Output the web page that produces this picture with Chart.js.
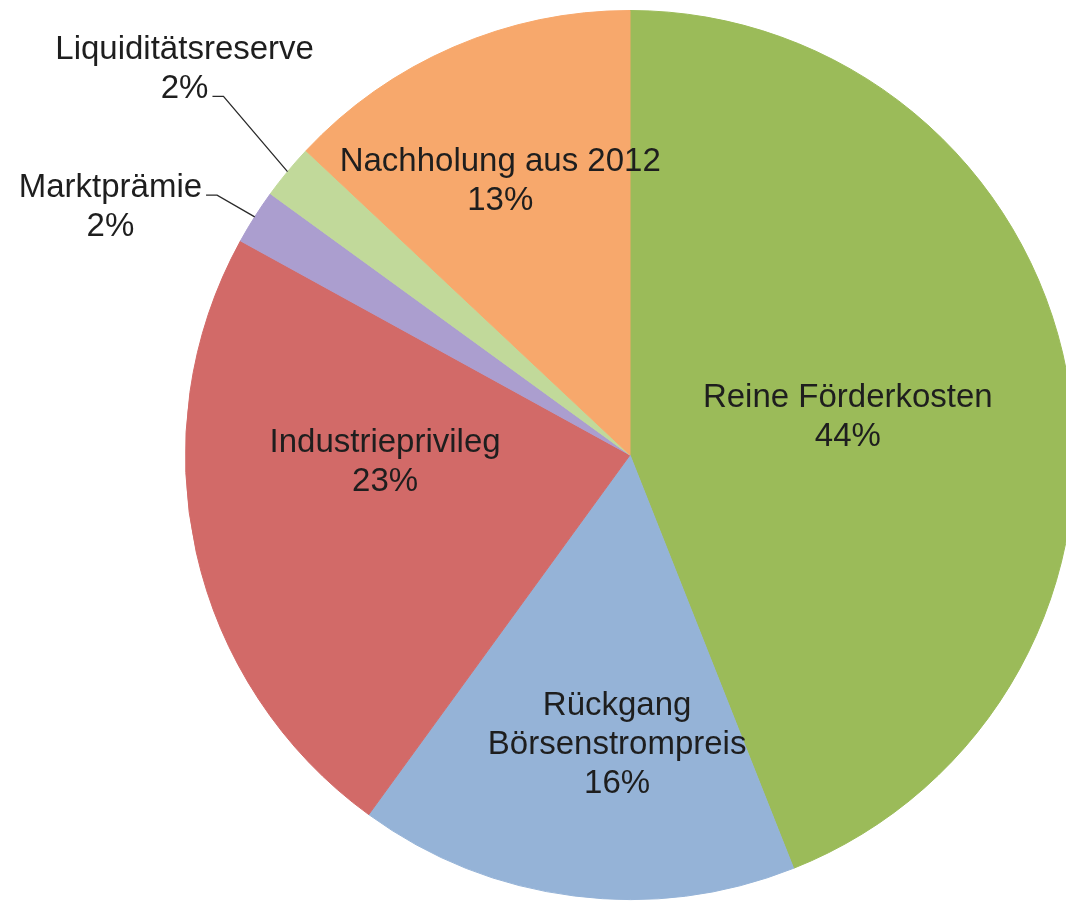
<!DOCTYPE html>
<html lang="de">
<head>
<meta charset="utf-8">
<title>Zusammensetzung des Anstiegs der EEG-Umlage</title>
<script src="https://cdn.jsdelivr.net/npm/chart.js@4.4.1/dist/chart.umd.min.js"></script>
<style>
  html, body { margin: 0; padding: 0; background: #ffffff; overflow: hidden; }
  #wrap { position: absolute; left: 0; top: 0; width: 1260px; height: 910px; }
  canvas { display: block; }
</style>
</head>
<body>
<div id="wrap"><canvas id="pie" width="1260" height="910"></canvas></div>
<script>
// Categories, clockwise from 12 o'clock
const categories = [
  ['Reine Förderkosten'],
  ['Rückgang', 'Börsenstrompreis'],
  ['Industrieprivileg'],
  ['Marktprämie'],
  ['Liquiditätsreserve'],
  ['Nachholung aus 2012']
];
// Share of each component in percent
const shares = [44, 16, 23, 2, 2, 13];
// Slice colours
const sliceColors = ['#9BBB59', '#95B3D7', '#D26A68', '#AB9ECF', '#C1D99A', '#F7A86C'];

// Label placement relative to the pie centre, in units of the radius.
// leaderFrom: index of the text line the leader line starts from (outside labels only).
const labelPlacement = [
  { ux: 0.490, uy: -0.108 },
  { ux: -0.029, uy: 0.584 },
  { ux: -0.551, uy: -0.007 },
  { ux: -1.169, uy: -0.580, leaderFrom: 0 },
  { ux: -1.002, uy: -0.890, leaderFrom: 1 },
  { ux: -0.292, uy: -0.640 }
];

const FONT_SIZE = 33;
const LINE_HEIGHT = 39;
const FONT = FONT_SIZE + 'px "Liberation Sans", Arial, sans-serif';

const pieLabels = {
  id: 'pieLabels',
  afterDatasetsDraw(chart) {
    const meta = chart.getDatasetMeta(0);
    const ctx = chart.ctx;
    const values = chart.data.datasets[0].data;
    const total = values.reduce((a, b) => a + b, 0);
    ctx.save();
    ctx.font = FONT;
    ctx.fillStyle = '#1e1e1e';
    ctx.textAlign = 'center';
    ctx.textBaseline = 'alphabetic';
    meta.data.forEach((arc, i) => {
      const p = labelPlacement[i];
      const r = arc.outerRadius;
      const x = arc.x + p.ux * r;
      const y0 = arc.y + p.uy * r;
      const pct = Math.round(values[i] / total * 100) + '%';
      const lines = chart.data.labels[i].concat([pct]);
      lines.forEach((t, k) => ctx.fillText(t, x, y0 + k * LINE_HEIGHT));

      if (p.leaderFrom !== undefined) {
        // leader line from the end of a text line to the rim of the slice
        const li = p.leaderFrom;
        const w = ctx.measureText(lines[li]).width;
        const sx = x + w / 2 + 4;
        const sy = y0 + li * LINE_HEIGHT - 2;
        const mid = (arc.startAngle + arc.endAngle) / 2;
        const ex = arc.x + Math.cos(mid) * r;
        const ey = arc.y + Math.sin(mid) * r;
        ctx.beginPath();
        ctx.strokeStyle = '#2a2a2a';
        ctx.lineWidth = 1.3;
        ctx.moveTo(sx, sy);
        ctx.lineTo(sx + 11, sy);
        ctx.lineTo(ex, ey);
        ctx.stroke();
      }
    });
    ctx.restore();
  }
};

new Chart(document.getElementById('pie'), {
  type: 'pie',
  data: {
    labels: categories,
    datasets: [{
      data: shares,
      backgroundColor: sliceColors,
      borderColor: sliceColors,
      borderWidth: 1
    }]
  },
  options: {
    responsive: false,
    animation: false,
    layout: { padding: { top: 10, bottom: 10, left: 0, right: 0 } },
    plugins: {
      legend: { display: false },
      tooltip: { enabled: false }
    }
  },
  plugins: [pieLabels]
});
</script>
</body>
</html>
